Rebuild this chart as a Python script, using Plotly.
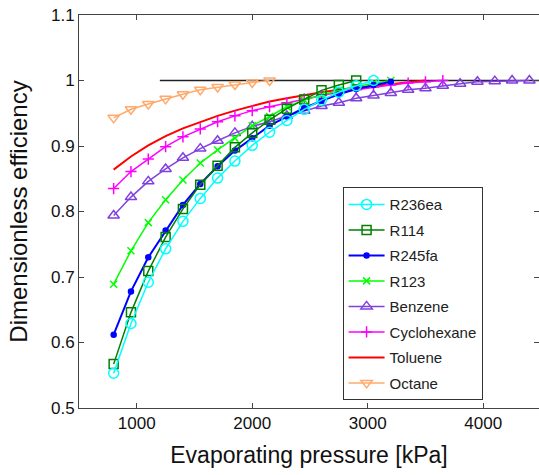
import plotly.graph_objects as go

# ---------------- data ----------------
p_oct = [800, 950, 1100, 1250, 1400, 1550, 1700, 1850, 2000, 2150]
eff_oct = [0.943, 0.956, 0.964, 0.972, 0.979, 0.986, 0.990, 0.994, 0.997, 1.0]

p_tol = [800, 950, 1100, 1250, 1400, 1550, 1700, 1850, 2000, 2150, 2300, 2450,
         2600, 2750, 2900, 3050, 3200, 3350, 3500]
eff_tol = [0.864, 0.884, 0.901, 0.915, 0.927, 0.937, 0.946, 0.954, 0.961, 0.968,
           0.973, 0.978, 0.982, 0.986, 0.989, 0.992, 0.995, 0.998, 1.0]

p_cyc = [800, 950, 1100, 1250, 1400, 1550, 1700, 1850, 2000, 2150, 2300, 2450,
         2600, 2750, 2900, 3050, 3200, 3350, 3500, 3650]
eff_cyc = [0.835, 0.861, 0.880, 0.899, 0.914, 0.926, 0.937, 0.946, 0.954, 0.960,
           0.966, 0.972, 0.977, 0.982, 0.986, 0.990, 0.993, 0.996, 0.998, 1.0]

p_ben = [800, 950, 1100, 1250, 1400, 1550, 1700, 1850, 2000, 2150, 2300, 2450,
         2600, 2750, 2900, 3050, 3200, 3350, 3500, 3650, 3800, 3950, 4100, 4250, 4400]
eff_ben = [0.794, 0.822, 0.846, 0.865, 0.882, 0.896, 0.908, 0.920, 0.930, 0.937,
           0.946, 0.954, 0.961, 0.966, 0.973, 0.977, 0.981, 0.986, 0.988, 0.992,
           0.995, 0.998, 0.999, 1.0, 1.0]

p_r123 = [800, 950, 1100, 1250, 1400, 1550, 1700, 1850, 2000, 2150, 2300, 2450,
          2600, 2750, 2900, 3050, 3200]
eff_r123 = [0.689, 0.740, 0.783, 0.818, 0.848, 0.874, 0.894, 0.912, 0.931, 0.945,
            0.960, 0.970, 0.978, 0.985, 0.991, 0.996, 1.0]

p_r245 = [800, 950, 1100, 1250, 1400, 1550, 1700, 1850, 2000, 2150, 2300, 2450,
          2600, 2750, 2900, 3050, 3200]
eff_r245 = [0.612, 0.678, 0.730, 0.771, 0.810, 0.842, 0.869, 0.893, 0.912, 0.931,
            0.945, 0.958, 0.969, 0.979, 0.987, 0.993, 0.998]

p_r114 = [800, 950, 1100, 1250, 1400, 1550, 1700, 1850, 2000, 2150, 2300, 2450,
          2600, 2750, 2900]
eff_r114 = [0.567, 0.646, 0.709, 0.761, 0.804, 0.841, 0.870, 0.898, 0.920, 0.940,
            0.957, 0.971, 0.985, 0.993, 1.0]

p_r236 = [800, 950, 1100, 1250, 1400, 1550, 1700, 1850, 2000, 2150, 2300, 2450,
          2600, 2750, 2900, 3050]
eff_r236 = [0.553, 0.629, 0.692, 0.743, 0.785, 0.820, 0.851, 0.877, 0.901, 0.921,
            0.939, 0.956, 0.970, 0.982, 0.992, 1.0]

p_ref = [1200, 4500]
eff_ref = [1.0, 1.0]

x_ticks = [1000, 2000, 3000, 4000]
y_ticks = [0.5, 0.6, 0.7, 0.8, 0.9, 1.0, 1.1]
y_tick_labels = ["0.5", "0.6", "0.7", "0.8", "0.9", "1", "1.1"]

# ---------------- figure ----------------
fig = go.Figure()

fig.add_trace(go.Scatter(x=p_ref, y=eff_ref, mode="lines", showlegend=False,
                         line=dict(color="#222222", width=1.5), hoverinfo="skip"))

series = [
    ("Octane", p_oct, eff_oct, "#FFAA6A", "triangle-down-open", 10, 1.5, "lines+markers"),
    ("Toluene", p_tol, eff_tol, "#FF0000", None, 0, 2, "lines"),
    ("Cyclohexane", p_cyc, eff_cyc, "#FF00FF", "cross-thin-open", 8, 1.5, "lines+markers"),
    ("Benzene", p_ben, eff_ben, "#8040E0", "triangle-up-open", 10, 1.5, "lines+markers"),
    ("R123", p_r123, eff_r123, "#00FF00", "x-thin-open", 7, 1.5, "lines+markers"),
    ("R245fa", p_r245, eff_r245, "#0000FF", "circle", 5, 2, "lines+markers"),
    ("R114", p_r114, eff_r114, "#008000", "square-open", 9, 1.5, "lines+markers"),
    ("R236ea", p_r236, eff_r236, "#00FFFF", "circle-open", 10, 1.5, "lines+markers"),
]

legend_rank = {"R236ea": 1, "R114": 2, "R245fa": 3, "R123": 4, "Benzene": 5,
               "Cyclohexane": 6, "Toluene": 7, "Octane": 8}

for name, xs, ys, col, sym, size, lw, mode in series:
    marker = dict(color=col, size=size, symbol=sym or "circle",
                  line=dict(color=col, width=1.5))
    fig.add_trace(go.Scatter(x=xs, y=ys, name=name, mode=mode, legendgroup=name,
                             line=dict(color=col, width=lw),
                             marker=marker, legendrank=legend_rank[name]))

fig.update_layout(
    width=539, height=475,
    margin=dict(l=79, r=0, t=15, b=67),
    paper_bgcolor="white", plot_bgcolor="white",
    font=dict(family="Liberation Sans, Arial, sans-serif", color="#111111", size=16),
    showlegend=True,
    legend=dict(x=0.573, y=0.562, xanchor="left", yanchor="top",
                bgcolor="white", bordercolor="#333333", borderwidth=1,
                font=dict(size=15, color="#222222"), tracegroupgap=3,
                itemwidth=36, entrywidth=130, entrywidthmode="pixels"),
    xaxis=dict(range=[500, 4483], tickvals=x_ticks, ticks="inside", ticklen=5,
               tickcolor="#444444", showline=True, linecolor="#444444", linewidth=1,
               mirror="ticks", showgrid=False, zeroline=False,
               tickfont=dict(size=17),
               title=dict(text="Evaporating pressure [kPa]", font=dict(size=23),
                          standoff=14)),
    yaxis=dict(range=[0.5, 1.1], tickvals=y_ticks, ticktext=y_tick_labels,
               ticks="inside", ticklen=5, tickcolor="#444444", showline=True,
               linecolor="#444444", linewidth=1, mirror="ticks", showgrid=False,
               zeroline=False, tickfont=dict(size=17),
               title=dict(text="Dimensionless efficiency", font=dict(size=24),
                          standoff=16)),
)

fig.write_html("out.html")
